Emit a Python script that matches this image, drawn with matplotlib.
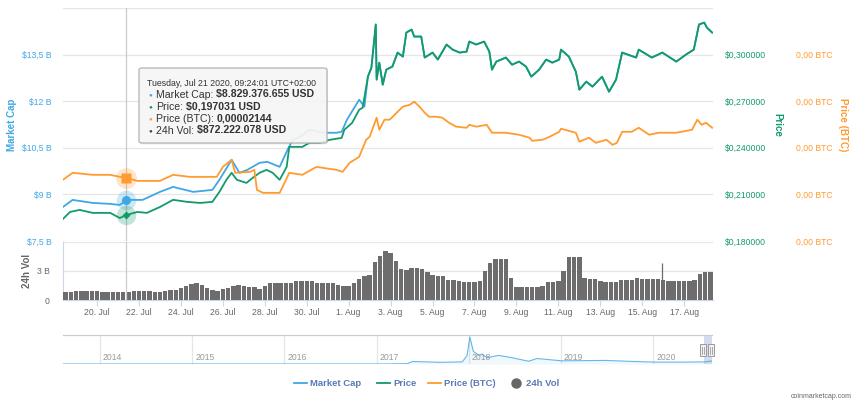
import numpy as np
import matplotlib
matplotlib.use("Agg")
import matplotlib.pyplot as plt
import matplotlib.dates as mdates
from matplotlib.patches import FancyBboxPatch, Rectangle
from matplotlib.lines import Line2D
from matplotlib.transforms import IdentityTransform
from matplotlib.ticker import FixedLocator, FuncFormatter

plt.rcParams['font.family'] = ['Liberation Sans', 'DejaVu Sans']

# ---------------- data ----------------
START = np.datetime64("2020-07-18T09:00")
END = np.datetime64("2020-08-18T09:00")

mcap_hours = [0, 11, 34, 54, 65, 73, 91, 111, 126, 149, 171, 179, 193, 202, 211, 217, 225, 234, 248, 257,
              263, 271, 282, 297, 313, 319, 325, 339, 345, 349, 353, 358, 359, 362, 366, 370, 377, 383, 389, 393,
              399, 402, 410, 414, 423, 429, 439, 446, 454, 462, 465, 473, 482, 488, 491, 496, 507, 514, 522, 530,
              536, 545, 553, 560, 568, 570, 579, 587, 591, 599, 606, 617, 625, 633, 640, 656, 659, 674, 686, 702,
              713, 722, 728, 734, 737, 743]
mcap_b = [8.597, 8.823, 8.726, 8.694, 8.661, 8.823, 8.823, 9.081, 9.242, 9.081, 9.145, 9.468, 10.113, 9.694,
          9.790, 9.887, 10.016, 10.048, 9.887, 10.435, 10.758, 10.855, 11.081, 10.984, 10.984, 11.016, 11.403,
          12.048, 11.823, 12.790, 13.081, 14.468, 12.694, 13.242, 12.532, 13.016, 13.113, 13.565, 13.435, 14.210,
          14.306, 14.081, 14.081, 13.403, 13.565, 13.339, 13.823, 13.661, 13.565, 13.597, 13.919, 13.823, 13.919,
          13.597, 13.016, 13.274, 13.403, 13.177, 13.274, 13.113, 12.790, 13.016, 13.339, 13.242, 13.339, 13.661,
          13.435, 12.952, 12.371, 12.629, 12.468, 12.790, 12.306, 12.694, 13.565, 13.403, 13.661, 13.403, 13.565,
          13.274, 13.500, 13.661, 14.468, 14.532, 14.371, 14.210]

price_hours = [0, 8, 19, 34, 54, 65, 73, 85, 96, 111, 126, 142, 157, 171, 179, 187, 193, 199, 210, 217,
               225, 233, 240, 248, 256, 259, 274, 282, 294, 305, 319, 322, 331, 339, 343, 349, 353, 358, 359, 362,
               366, 370, 377, 383, 389, 393, 399, 402, 410, 414, 423, 429, 439, 446, 454, 462, 465, 473, 482, 488,
               491, 496, 507, 514, 522, 530, 536, 545, 553, 560, 568, 570, 579, 587, 591, 599, 606, 617, 625, 633,
               640, 656, 659, 674, 686, 702, 713, 722, 728, 734, 737, 743]
price_usd = [0.1942, 0.1987, 0.2000, 0.1981, 0.1981, 0.1948, 0.1968, 0.1987, 0.1981, 0.2019,
             0.2065, 0.2052, 0.2045, 0.2052, 0.2116, 0.2194, 0.2239, 0.2194, 0.2174, 0.2206,
             0.2239, 0.2258, 0.2239, 0.2194, 0.2277, 0.2406, 0.2406, 0.2432, 0.2432, 0.2451,
             0.2464, 0.2516, 0.2561, 0.2645, 0.2658, 0.2858, 0.2916, 0.3194, 0.2839, 0.2948,
             0.2806, 0.2903, 0.2923, 0.3013, 0.2987, 0.3142, 0.3161, 0.3116, 0.3116, 0.2981,
             0.3013, 0.2968, 0.3065, 0.3032, 0.3013, 0.3019, 0.3084, 0.3065, 0.3084, 0.3019,
             0.2903, 0.2955, 0.2981, 0.2935, 0.2955, 0.2923, 0.2858, 0.2903, 0.2968, 0.2948,
             0.2968, 0.3032, 0.2987, 0.2890, 0.2774, 0.2826, 0.2794, 0.2858, 0.2761, 0.2839,
             0.3013, 0.2981, 0.3032, 0.2981, 0.3013, 0.2955, 0.3000, 0.3032, 0.3194, 0.3206,
             0.3174, 0.3142]

btc_hours = [0, 11, 34, 54, 65, 73, 85, 111, 126, 145, 176, 183, 193, 197, 214, 219, 222, 229, 245, 248,
             259, 274, 290, 313, 320, 328, 339, 347, 351, 359, 362, 368, 374, 382, 389, 397, 402, 408, 414, 419,
             427, 434, 442, 450, 462, 465, 473, 485, 491, 507, 522, 534, 537, 549, 557, 568, 570, 587, 591, 602,
             610, 622, 629, 634, 640, 651, 659, 671, 682, 702, 720, 726, 731, 736, 743]
price_btc = [2.134e-5, 2.179e-5, 2.166e-5, 2.166e-5, 2.153e-5, 2.146e-5, 2.127e-5, 2.127e-5, 2.166e-5, 2.153e-5,
             2.153e-5, 2.217e-5, 2.263e-5, 2.179e-5, 2.185e-5, 2.198e-5, 2.069e-5, 2.050e-5, 2.050e-5, 2.050e-5,
             2.179e-5, 2.166e-5, 2.217e-5, 2.198e-5, 2.185e-5, 2.243e-5, 2.282e-5, 2.392e-5, 2.411e-5, 2.534e-5,
             2.456e-5, 2.521e-5, 2.521e-5, 2.566e-5, 2.605e-5, 2.617e-5, 2.637e-5, 2.605e-5, 2.566e-5, 2.540e-5,
             2.540e-5, 2.534e-5, 2.501e-5, 2.476e-5, 2.469e-5, 2.488e-5, 2.476e-5, 2.488e-5, 2.437e-5, 2.437e-5,
             2.424e-5, 2.405e-5, 2.385e-5, 2.392e-5, 2.411e-5, 2.443e-5, 2.463e-5, 2.437e-5, 2.379e-5, 2.405e-5,
             2.372e-5, 2.392e-5, 2.359e-5, 2.372e-5, 2.443e-5, 2.443e-5, 2.469e-5, 2.424e-5, 2.437e-5, 2.437e-5,
             2.456e-5, 2.521e-5, 2.488e-5, 2.501e-5, 2.469e-5]

# 24h volume, one bar every 6 hours (billions USD)
vol_hours = list(range(3, 744, 6))
vol_b = [0.85, 0.85, 0.88, 0.90, 0.93, 0.93, 0.90, 0.85, 0.80, 0.78,
         0.78, 0.80, 0.87, 0.90, 0.93, 0.90, 0.88, 0.85, 0.85, 0.95,
         1.00, 1.00, 1.20, 1.45, 1.70, 1.78, 1.55, 1.25, 1.00, 0.97,
         1.15, 1.20, 1.50, 1.55, 1.40, 1.38, 1.38, 1.17, 1.45, 1.72,
         1.72, 1.72, 1.72, 1.75, 2.00, 2.00, 2.00, 1.95, 1.80, 1.80,
         1.80, 1.80, 1.60, 1.45, 1.45, 1.72, 2.20, 2.48, 2.60, 3.90,
         4.60, 5.10, 4.90, 4.00, 3.20, 3.15, 3.27, 3.27, 3.20, 2.93,
         2.60, 2.50, 2.50, 2.10, 2.05, 2.00, 1.85, 1.83, 1.90, 1.93,
         3.00, 3.80, 4.25, 4.24, 4.20, 2.30, 1.31, 1.31, 1.30, 1.31,
         1.31, 1.50, 1.85, 1.90, 1.95, 3.00, 4.45, 4.45, 4.50, 2.30,
         2.20, 2.20, 2.00, 1.90, 1.90, 1.85, 2.05, 2.07, 2.05, 2.30,
         2.15, 2.14, 2.14, 2.14, 2.10, 2.00, 2.00, 2.00, 1.98, 2.00,
         2.05, 2.70, 2.93, 2.93]
spike_hours = [686]
spike_b = [3.8]

# tooltip point
tip_time = np.datetime64("2020-07-21T09:24:01")
tip_header = "Tuesday, Jul 21 2020, 09:24:01 UTC+02:00"
tip_mc = 8.829376655
tip_price = 0.197031
tip_btc = 0.00002144
tip_vol = 0.872222078

# navigator (full history market cap, billions USD)
nav_dates = ["2013-08-07", "2014-09-15", "2015-11-25", "2017-02-05", "2017-05-01", "2017-05-22",
             "2017-09-08", "2017-12-05", "2017-12-24", "2018-01-04", "2018-01-18", "2018-02-10",
             "2018-02-20", "2018-03-14", "2018-04-28", "2018-06-20", "2018-08-25", "2018-09-27",
             "2018-11-20", "2019-01-04", "2019-06-25", "2019-10-12", "2020-01-08", "2020-04-27",
             "2020-07-24", "2020-08-18"]
nav_mcap_b = [0.05, 0.2, 0.2, 0.3, 1.5, 12, 8, 10, 40, 128, 60, 40, 48, 30, 41, 30, 13, 26, 20, 15,
              17, 12, 9, 9, 10, 14.2]

mc_ticks = [7.5, 9, 10.5, 12, 13.5, 15]
price_ticks = [0.18, 0.21, 0.24, 0.27, 0.30, 0.33]
btc_ticks = [1.74e-5, 2.04e-5, 2.34e-5, 2.64e-5, 2.94e-5, 3.24e-5]
vol_ticks = [0, 3, 6]
years = [2014, 2015, 2016, 2017, 2018, 2019, 2020]

# ---------------- style ----------------
C_MC = '#3ea7e4'
C_PR = '#129a69'
C_BTC = '#ff9b2f'
C_VOL = '#6d6d6d'
C_GRID = '#e6e6e6'
C_AXIS = '#ccd6eb'
C_TXT = '#666666'

W, H = 865, 408
fig = plt.figure(figsize=(W / 100, H / 100), dpi=100)


def px_axes(l, t, r, b):
    return fig.add_axes([l / W, 1 - b / H, (r - l) / W, (b - t) / H])


def to_dt(hours):
    return START + (np.asarray(hours, dtype=float) * 60).round().astype(int).astype('timedelta64[m]')


ax = px_axes(63, 8, 713, 241)
axv = px_axes(63, 242, 713, 300)
axn = px_axes(63, 335, 712, 364)

# ---- main panel ----
ax.set_xlim(START, END)
ax.set_ylim(mc_ticks[0], mc_ticks[-1])
ax.set_yticks(mc_ticks)
ax.yaxis.set_major_formatter(FuncFormatter(
    lambda v, p: "" if v >= 15 else ("$" + f"{v:g}".replace('.', ',') + " B")))
ax.grid(axis='y', color=C_GRID, lw=0.9)
ax.set_axisbelow(True)
for s in ax.spines.values():
    s.set_visible(False)
ax.tick_params(axis='y', length=0, pad=8, labelsize=6.2, labelcolor=C_MC)
ax.tick_params(axis='x', bottom=False, labelbottom=False)
ax.set_ylabel("Market Cap", color=C_MC, fontsize=7, fontweight='bold', va='center', ha='center')
ax.yaxis.set_label_coords(-0.0785, 0.5)

axp = ax.twinx()
axp.set_ylim(price_ticks[0], price_ticks[-1])
axp.set_yticks(price_ticks[:-1])
axp.yaxis.set_major_formatter(FuncFormatter(lambda v, p: "$" + f"{v:.6f}".replace('.', ',')))
axp.tick_params(axis='y', length=0, pad=8.5, labelsize=6.2, labelcolor=C_PR)
axp.set_ylabel("Price", color=C_PR, fontsize=7, fontweight='bold', rotation=270, va='center', ha='center')
axp.yaxis.set_label_coords((777 - 63) / 650, 0.5)

axb = ax.twinx()
axb.set_ylim(btc_ticks[0], btc_ticks[-1])
axb.set_yticks(btc_ticks[:-1])
axb.yaxis.set_major_formatter(FuncFormatter(lambda v, p: "0,00 BTC"))
axb.tick_params(axis='y', length=0, pad=60, labelsize=6.2, labelcolor=C_BTC)
axb.set_ylabel("Price (BTC)", color=C_BTC, fontsize=7, fontweight='bold', rotation=270, va='center', ha='center')
axb.yaxis.set_label_coords((843 - 63) / 650, 0.5)
for a in (axp, axb):
    for s in a.spines.values():
        s.set_visible(False)
    a.set_xlim(START, END)

# crosshair
ax.axvline(tip_time, color='#cccccc', lw=0.9, zorder=1)

ax.plot(to_dt(mcap_hours), mcap_b, color=C_MC, lw=1.3, zorder=3)
axp.plot(to_dt(price_hours), price_usd, color=C_PR, lw=1.3, zorder=3)
axb.plot(to_dt(btc_hours), price_btc, color=C_BTC, lw=1.3, zorder=3)

# hover markers
ax.plot([tip_time], [tip_mc], 'o', ms=14, color=C_MC, alpha=0.25, mec='none', zorder=4)
ax.plot([tip_time], [tip_mc], 'o', ms=6.5, color=C_MC, mec='none', zorder=5)
axp.plot([tip_time], [tip_price], 'o', ms=14, color=C_PR, alpha=0.25, mec='none', zorder=4)
axp.plot([tip_time], [tip_price], 'D', ms=4.5, color=C_PR, mec='none', zorder=5)
axb.plot([tip_time], [tip_btc], 'o', ms=15, color=C_BTC, alpha=0.25, mec='none', zorder=4)
axb.plot([tip_time], [tip_btc], 's', ms=6.5, color=C_BTC, mec='none', zorder=5)

# ---- volume panel ----
axv.set_xlim(START, END)
axv.set_ylim(vol_ticks[0], vol_ticks[-1])
axv.bar(to_dt(vol_hours), vol_b, width=0.21, color=C_VOL, edgecolor='none', zorder=3)
axv.vlines(to_dt(spike_hours), 0, spike_b, color=C_VOL, lw=0.9, zorder=3)
axv.axvline(tip_time, color='#cccccc', lw=0.9, zorder=4)
axv.set_yticks(vol_ticks)
axv.yaxis.set_major_formatter(FuncFormatter(lambda v, p: "" if v >= 6 else ("0" if v == 0 else f"{v:g} B")))
axv.grid(axis='y', color=C_GRID, lw=0.9)
axv.set_axisbelow(True)
for k in ('top', 'right'):
    axv.spines[k].set_visible(False)
axv.spines['left'].set_color(C_AXIS)
axv.spines['bottom'].set_color(C_AXIS)
axv.spines['left'].set_linewidth(0.8)
axv.spines['bottom'].set_linewidth(0.9)
axv.tick_params(axis='y', length=0, pad=9.5, labelsize=6.2, labelcolor=C_TXT)
date_ticks = np.arange(np.datetime64('2020-07-20'), np.datetime64('2020-08-18'), 2)
axv.xaxis.set_major_locator(FixedLocator(mdates.date2num(date_ticks)))
axv.xaxis.set_major_formatter(mdates.DateFormatter('%-d. %b'))
axv.tick_params(axis='x', length=4, width=0.8, color=C_AXIS, labelsize=6.2, labelcolor=C_TXT, pad=2)
axv.set_ylabel("24h Vol", color=C_TXT, fontsize=7, fontweight='bold', va='center', ha='center')
axv.yaxis.set_label_coords((27 - 63) / 650, 0.5)

# ---- navigator ----
nav_dt = np.array(nav_dates, dtype='datetime64[D]')
axn.set_xlim(np.datetime64("2013-08-07"), np.datetime64("2020-08-20"))
axn.set_ylim(0, 138)
axn.fill_between(nav_dt, nav_mcap_b, 0, color=C_MC, alpha=0.08, lw=0)
axn.plot(nav_dt, nav_mcap_b, color=C_MC, lw=0.8, alpha=0.8)
year_dt = np.array([f"{y}-01-01" for y in years], dtype='datetime64[D]')
axn.set_xticks(mdates.date2num(year_dt))
axn.grid(axis='x', color=C_GRID, lw=0.9)
axn.set_axisbelow(True)
axn.tick_params(length=0, labelbottom=False, labelleft=False)
axn.set_yticks([])
for y, d in zip(years, year_dt):
    axn.annotate(str(y), (mdates.date2num(d), 0), xytext=(2, 1.5), textcoords='offset points',
                 ha='left', va='bottom', fontsize=6.2, color='#999999')
for k in ('left', 'right', 'bottom'):
    axn.spines[k].set_visible(False)
axn.spines['top'].set_color('#cccccc')
axn.spines['top'].set_linewidth(0.9)
axn.axvspan(START, END, color=C_AXIS, alpha=0.85, lw=0)

# navigator handles
for d in (START, END):
    xp = axn.transData.transform((mdates.date2num(d), 0))[0]
    ymid = (1 - 350 / H) * H
    fig.add_artist(Rectangle((xp - 3.5, ymid - 6), 6, 12, transform=IdentityTransform(),
                             facecolor='#f2f2f2', edgecolor='#999999', lw=0.7, zorder=10))
    for dx in (-1.3, 0.7):
        fig.add_artist(Line2D([xp + dx, xp + dx], [ymid - 3.5, ymid + 3.5], transform=IdentityTransform(),
                              color='#999999', lw=0.6, zorder=11))

# ---- tooltip ----
def fx(x):
    return x / W


def fy(y):
    return 1 - y / H


shadow = FancyBboxPatch((fx(140), fy(144.5)), fx(327) - fx(139), fy(68) - fy(143),
                        boxstyle="round,pad=0,rounding_size=0.004", transform=fig.transFigure,
                        facecolor='black', alpha=0.08, edgecolor='none', zorder=20)
box = FancyBboxPatch((fx(139), fy(143)), fx(327) - fx(139), fy(68) - fy(143),
                     boxstyle="round,pad=0,rounding_size=0.004", transform=fig.transFigure,
                     facecolor=(0.97, 0.97, 0.97, 0.92), edgecolor='#b3b3b3', lw=0.9, zorder=21)
fig.add_artist(shadow)
fig.add_artist(box)
fig.text(fx(147), fy(83), tip_header, fontsize=6.3, color='#333333', va='center', ha='left', zorder=22)

renderer = fig.canvas.get_renderer()


def fmt_int(v):
    return f"{int(round(v)):,}".replace(',', '.')


rows = [
    (C_MC, "Market Cap:", "$" + fmt_int(tip_mc * 1e9) + " USD", 94.5),
    (C_PR, "Price:", "$" + f"{tip_price:.6f}".replace('.', ',') + " USD", 106.5),
    (C_BTC, "Price (BTC):", f"{tip_btc:.8f}".replace('.', ','), 118.5),
    ('#444444', "24h Vol:", "$" + fmt_int(tip_vol * 1e9) + " USD", 130.5),
]
for col, lab, val, yy in rows:
    fig.text(fx(148), fy(yy), "\u25CF", fontsize=4.5, color=col, va='center', ha='left', zorder=22)
    t = fig.text(fx(156), fy(yy), lab, fontsize=7.6, color='#333333', va='center', ha='left', zorder=22)
    bb = t.get_window_extent(renderer)
    fig.text(bb.x1 / W + 3 / W, fy(yy), val, fontsize=7.6, fontweight='bold', color='#333333',
             va='center', ha='left', zorder=22)

# ---- legend ----
LEG_TXT = '#5a7bb5'
ly = fy(383)
items = [(294, 'line', C_MC, "Market Cap"), (377, 'line', C_PR, "Price"),
         (428, 'line', C_BTC, "Price (BTC)"), (512, 'dot', '#666666', "24h Vol")]
for x0, kind, col, label in items:
    if kind == 'line':
        fig.add_artist(Line2D([fx(x0), fx(x0 + 13)], [ly, ly], transform=fig.transFigure, color=col, lw=1.3))
        fig.text(fx(x0 + 16), ly, label, fontsize=6.8, fontweight='bold', color=LEG_TXT, va='center', ha='left')
    else:
        fig.add_artist(Line2D([fx(x0 + 4)], [ly], transform=fig.transFigure, marker='o', ms=6.5,
                              color=col, lw=0))
        fig.text(fx(x0 + 14), ly, label, fontsize=6.8, fontweight='bold', color=LEG_TXT, va='center', ha='left')

fig.text(fx(852), fy(397), "coinmarketcap.com", fontsize=5, color='#666666', ha='right', va='center')

fig.savefig("out.png", dpi=100)
